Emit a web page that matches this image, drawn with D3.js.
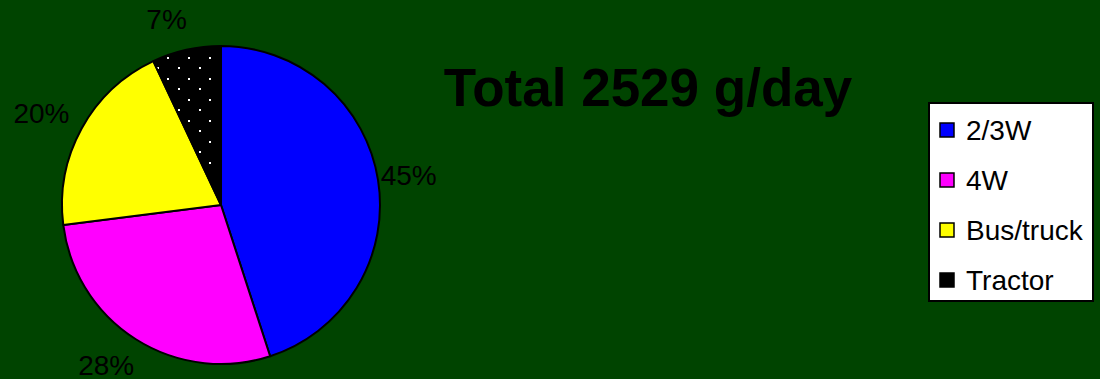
<!DOCTYPE html>
<html>
<head>
<meta charset="utf-8">
<style>
  html, body { margin: 0; padding: 0; background: #004400; }
  svg { display: block; font-family: Arial, "Liberation Sans", sans-serif; }
</style>
</head>
<body>
<div id="chart"></div>
<script src="https://cdn.jsdelivr.net/npm/d3@7"></script>
<script>
// data (grams per day, total 2529)
const categories = ['2/3W', '4W', 'Bus/truck', 'Tractor'];
const values = [1138, 708, 506, 177];
const colors = ['#0000ff', '#ff00ff', '#ffff00', '#000000'];
const title = 'Total 2529 g/day';

const width = 1100, height = 379;
const cx = 221, cy = 205, radius = 159;

const svg = d3.select('#chart').append('svg')
    .attr('width', width)
    .attr('height', height);

// dotted pattern for tractor slice
const defs = svg.append('defs');
const pat = defs.append('pattern')
    .attr('id', 'dots')
    .attr('patternUnits', 'userSpaceOnUse')
    .attr('width', 21).attr('height', 21)
    .attr('x', 167).attr('y', 51);
pat.append('rect').attr('width', 21).attr('height', 21).attr('fill', '#000');
pat.append('rect').attr('x', 0).attr('y', 0).attr('width', 2).attr('height', 2).attr('fill', '#fff');
pat.append('rect').attr('x', 10).attr('y', 11).attr('width', 2).attr('height', 2).attr('fill', '#fff');

const fill = i => i === 3 ? 'url(#dots)' : colors[i];

const total = d3.sum(values);
const pie = d3.pie().sort(null).value(d => d)(values);
const arc = d3.arc().innerRadius(0).outerRadius(radius);

const g = svg.append('g').attr('transform', `translate(${cx},${cy})`);

g.selectAll('path')
  .data(pie)
  .join('path')
    .attr('d', arc)
    .attr('fill', (d, i) => fill(i))
    .attr('stroke', '#000')
    .attr('stroke-width', 2)
    .attr('stroke-linejoin', 'round');

// percent labels outside the pie
const labelArc = d3.arc().innerRadius(radius + 31).outerRadius(radius + 31);
g.selectAll('text')
  .data(pie)
  .join('text')
    .attr('transform', d => {
      const [x, y] = labelArc.centroid(d);
      return `translate(${x < 0 ? x - 13 : x},${y})`;
    })
    .attr('text-anchor', 'middle')
    .attr('dy', '0.35em')
    .style('font-size', '28px')
    .attr('fill', '#000')
    .text(d => Math.round(d.value / total * 100) + '%');

// title
svg.append('text')
    .attr('x', 648).attr('y', 106)
    .attr('text-anchor', 'middle')
    .style('font-size', '53px')
    .style('font-weight', 'bold')
    .attr('fill', '#000')
    .text(title);

// legend
const lg = svg.append('g').attr('transform', 'translate(929,103)');
lg.append('rect')
    .attr('width', 164).attr('height', 198)
    .attr('fill', '#fff')
    .attr('stroke', '#000').attr('stroke-width', 2);

const item = lg.selectAll('g.item')
  .data(categories)
  .join('g')
    .attr('class', 'item')
    .attr('transform', (d, i) => `translate(11,${27 + i * 50})`);

item.append('rect')
    .attr('x', 0).attr('y', -7)
    .attr('width', 14).attr('height', 14)
    .attr('fill', (d, i) => colors[i])
    .attr('stroke', '#000').attr('stroke-width', 1.5);

item.append('text')
    .attr('x', 26).attr('dy', '0.36em')
    .style('font-size', '28px')
    .attr('fill', '#000')
    .text(d => d);
</script>
</body>
</html>
